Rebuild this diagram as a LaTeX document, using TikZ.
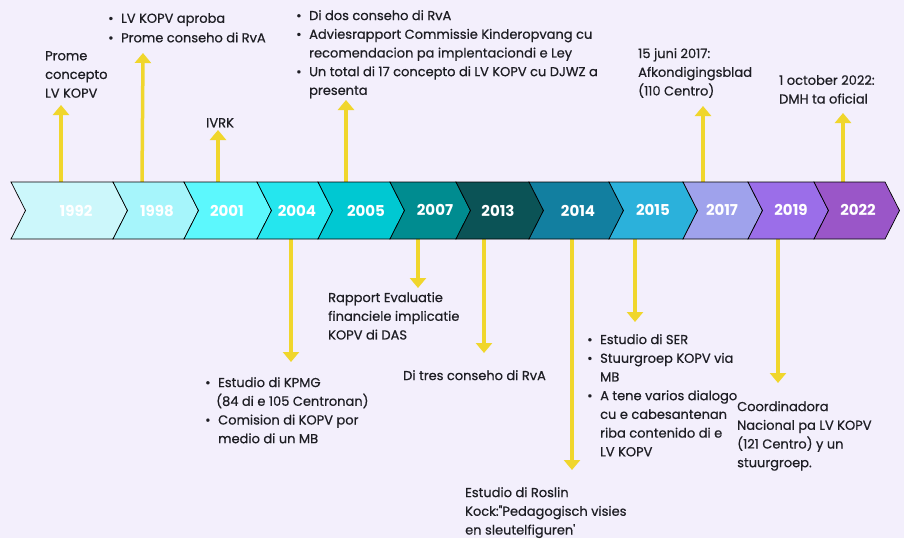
\documentclass[tikz,border=0pt]{standalone}
\usepackage{fontspec}
\setmainfont{Poppins}[Ligatures=TeXOff]
\newfontfamily\medf{Poppins}[FakeBold=0.6,Ligatures=TeXOff]
\usetikzlibrary{arrows.meta}
\definecolor{bg}{HTML}{F3EFFC}
\definecolor{ylw}{HTML}{F0D62C}
\definecolor{ink}{HTML}{1E1E24}
\definecolor{c1}{HTML}{CCF7FB}
\definecolor{c2}{HTML}{A6F5FB}
\definecolor{c3}{HTML}{5CF8FD}
\definecolor{c4}{HTML}{25E6EE}
\definecolor{c5}{HTML}{00C8D2}
\definecolor{c6}{HTML}{008C90}
\definecolor{c7}{HTML}{0B5356}
\definecolor{c8}{HTML}{127FA0}
\definecolor{c9}{HTML}{2BB1DB}
\definecolor{c10}{HTML}{9FA2EC}
\definecolor{c11}{HTML}{9B6EE9}
\definecolor{c12}{HTML}{9A56C8}
\newcommand\chev[3]{\fill[#3,draw=black,line width=.7pt] (#1,182) -- (#2,182) -- ({#2+14.5},210.5) -- (#2,239) -- (#1,239) -- ({#1+14.5},210.5) -- cycle;}
\newcommand\bl{\makebox[13pt][l]{\textbullet}}
\newcommand\ind{\hspace*{13pt}}
\begin{document}
\begin{tikzpicture}[x=1pt,y=-1pt,
  arr/.style={draw=ylw, line width=3.5pt, -{Triangle[width=16pt,length=10pt]}},
  txt/.style={font=\medf\fontsize{13}{18.7}\selectfont, text=ink, inner sep=0pt, anchor=north west, align=left},
  yr/.style={font=\fontsize{15}{15}\selectfont\bfseries, text=white, inner sep=0pt}]
\fill[bg] (0,0) rectangle (904,538);
\useasboundingbox (0,0) rectangle (904,538);
% arrows first (behind band)
\coordinate (s1992) at (61,183);   \coordinate (e1992) at (61,105);
\coordinate (s1998) at (142,183);  \coordinate (e1998) at (143,53);
\coordinate (s2001) at (218,183);  \coordinate (e2001) at (218,130);
\coordinate (s2005) at (346,183);  \coordinate (e2005) at (346,100);
\coordinate (s2017) at (703,183);  \coordinate (e2017) at (703,106);
\coordinate (s2022) at (843,183);  \coordinate (e2022) at (843,113);
\coordinate (s2004) at (291,238);  \coordinate (e2004) at (291,362);
\coordinate (s2007) at (418,238);  \coordinate (e2007) at (418,288);
\coordinate (s2013) at (484,238);  \coordinate (e2013) at (484,353);
\coordinate (s2014) at (572,238);  \coordinate (e2014) at (572,470);
\coordinate (s2015) at (635,238);  \coordinate (e2015) at (635,322);
\coordinate (s2019) at (778,238);  \coordinate (e2019) at (778,383);
\foreach \y in {1992,1998,2001,2005,2017,2022,2004,2007,2013,2014,2015,2019}
  \draw[arr] (s\y) -- (e\y);
% band
\chev{11}{113}{c1}
\chev{113}{184}{c2}
\chev{184}{257}{c3}
\chev{257}{318}{c4}
\chev{318}{390}{c5}
\chev{390}{456}{c6}
\chev{456}{529}{c7}
\chev{529}{609}{c8}
\chev{609}{683}{c9}
\chev{683}{748}{c10}
\chev{748}{814}{c11}
\chev{814}{885}{c12}
\node[yr] (y1992) at (76,211) {1992};
\node[yr] (y1998) at (157,211) {1998};
\node[yr] (y2001) at (227,211) {2001};
\node[yr] (y2004) at (297,211) {2004};
\node[yr] (y2005) at (366,211) {2005};
\node[yr] (y2007) at (435,210) {2007};
\node[yr] (y2013) at (498,211) {2013};
\node[yr] (y2014) at (578,211) {2014};
\node[yr] (y2015) at (653,210) {2015};
\node[yr] (y2017) at (722,210) {2017};
\node[yr] (y2019) at (791,210) {2019};
\node[yr] (y2022) at (858,210) {2022};
% texts
\node[txt] (t1992) at (45,51) {Prome\\concepto\\LV KOPV};
\node[txt,font=\medf\fontsize{13}{19.5}\selectfont] (t1998) at (108,13) {\bl LV KOPV aproba\\\bl Prome conseho di RvA};
\node[txt] (t2001) at (206,118) {IVRK};
\node[txt] (t2005) at (296,10) {\bl Di dos conseho di RvA\\\bl Adviesrapport Commissie Kinderopvang cu\\\ind recomendacion pa implentaciondi e Ley\\\bl Un total di 17 concepto di LV KOPV cu DJWZ a\\\ind presenta};
\node[txt] (t2017) at (638,48) {15 juni 2017:\\Afkondigingsblad\\(110 Centro)};
\node[txt] (t2022) at (779,75) {1 october 2022:\\DMH ta oficial};
\node[txt] (t2007) at (328,292) {Rapport Evaluatie\\financiele implicatie\\KOPV di DAS};
\node[txt] (t2013) at (403,370) {Di tres conseho di RvA};
\node[txt] (t2004) at (205,377) {\bl Estudio di KPMG\\\hspace*{11pt}(84 di e 105 Centronan)\\\bl Comision di KOPV por\\\ind medio di un MB};
\node[txt] (t2015) at (587,334) {\bl Estudio di SER\\\bl Stuurgroep KOPV via\\\ind MB\\\bl A tene varios dialogo\\\ind cu e cabesantenan\\\ind riba contenido di e\\\ind LV KOPV};
\node[txt] (t2019) at (737,401) {Coordinadora\\Nacional pa LV KOPV\\(121 Centro) y un\\stuurgroep.};
\node[txt] (t2014) at (465,487) {Estudio di Roslin\\Kock:"Pedagogisch visies\\en sleutelfiguren'};
\end{tikzpicture}
\end{document}
